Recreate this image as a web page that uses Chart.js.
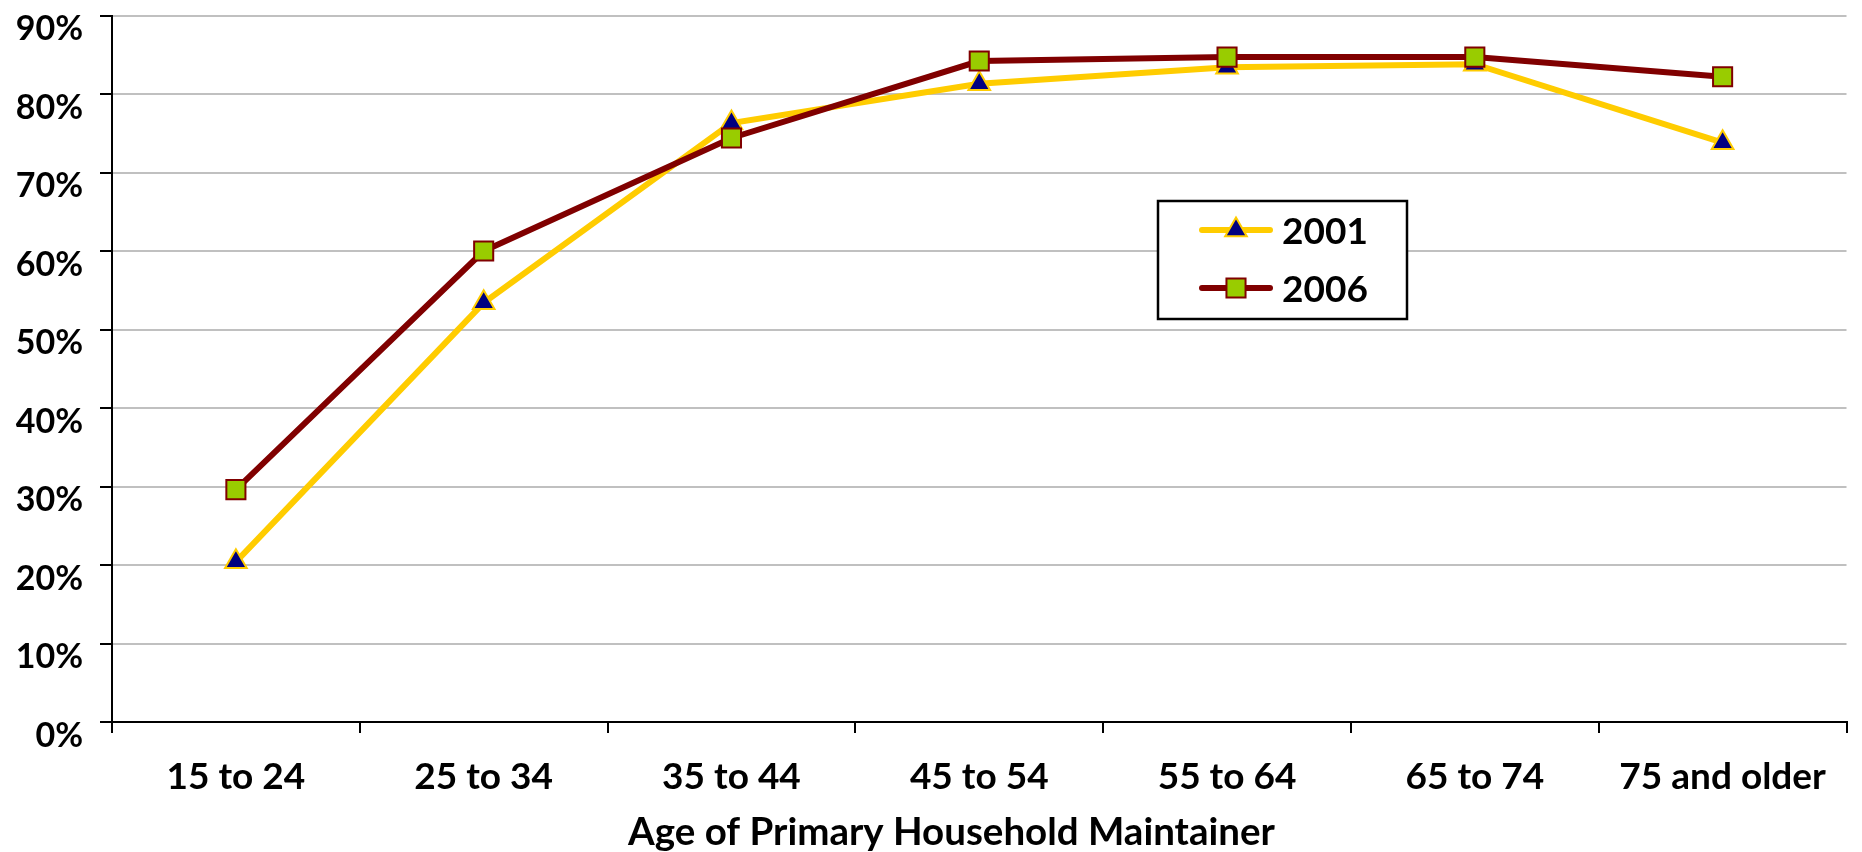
<!DOCTYPE html>
<html>
<head>
<meta charset="utf-8">
<title>Age of Primary Household Maintainer</title>
<script src="https://cdn.jsdelivr.net/npm/chart.js@4/dist/chart.umd.min.js"></script>
<style>
  html, body { margin: 0; padding: 0; background: #ffffff; }
  #wrap { width: 1862px; height: 852px; }
</style>
</head>
<body>
<div id="wrap"><canvas id="c" width="1862" height="852"></canvas></div>
<script>
// Age groups of the primary household maintainer
const categories = ['15 to 24', '25 to 34', '35 to 44', '45 to 54', '55 to 64', '65 to 74', '75 and older'];

// Rates (%) by age group for each census year
const series2001 = [20.4, 53.4, 76.3, 81.3, 83.4, 83.8, 73.8];
const series2006 = [29.6, 60.0, 74.4, 84.2, 84.7, 84.7, 82.2];

// Value axis tick values (%)
const yTicks = [0, 10, 20, 30, 40, 50, 60, 70, 80, 90];

const xAxisTitle = 'Age of Primary Household Maintainer';

const FONT = 'Lato, "Gill Sans", "DejaVu Sans", sans-serif';
const WEIGHT = 'bold';

// Boxed legend drawn inside the plot area, right of centre
const boxLegend = {
  id: 'boxLegend',
  afterDraw(chart) {
    const ctx = chart.ctx;
    const bx = 1158, by = 201, bw = 249, bh = 118;
    ctx.save();
    ctx.fillStyle = '#ffffff';
    ctx.fillRect(bx, by, bw, bh);
    ctx.lineWidth = 2.5;
    ctx.strokeStyle = '#000000';
    ctx.strokeRect(bx, by, bw, bh);

    const rows = [230, 288];
    chart.data.datasets.forEach((ds, i) => {
      const y = rows[i];
      // line sample
      ctx.beginPath();
      ctx.lineCap = 'round';
      ctx.lineWidth = ds.borderWidth;
      ctx.strokeStyle = ds.borderColor;
      ctx.moveTo(1202, y);
      ctx.lineTo(1270, y);
      ctx.stroke();
      // marker sample
      ctx.lineCap = 'butt';
      ctx.fillStyle = ds.pointBackgroundColor;
      ctx.strokeStyle = ds.pointBorderColor;
      ctx.lineWidth = ds.pointBorderWidth;
      const opts = { pointStyle: ds.pointStyle, radius: ds.pointRadius, rotation: 0, borderWidth: ds.pointBorderWidth };
      if (Chart.helpers && Chart.helpers.drawPoint) {
        Chart.helpers.drawPoint(ctx, opts, 1236, y);
      }
      // label
      ctx.fillStyle = '#000000';
      ctx.font = WEIGHT + ' 37px ' + FONT;
      ctx.textAlign = 'left';
      ctx.textBaseline = 'middle';
      ctx.fillText(ds.label, 1282, y + 2);
    });
    ctx.restore();
  }
};

// Category axis title, set slightly left of the plot centre
const axisTitle = {
  id: 'axisTitle',
  afterDraw(chart) {
    const ctx = chart.ctx;
    const a = chart.chartArea;
    ctx.save();
    ctx.fillStyle = '#000000';
    ctx.font = WEIGHT + ' 38.5px ' + FONT;
    ctx.textAlign = 'center';
    ctx.textBaseline = 'middle';
    ctx.fillText(xAxisTitle, a.left + a.width * 0.484, 833);
    ctx.restore();
  }
};

const chart = new Chart(document.getElementById('c'), {
  type: 'line',
  data: {
    labels: categories,
    datasets: [
      {
        label: '2001',
        data: series2001,
        order: 1,
        borderColor: '#FFCC00',
        borderWidth: 6,
        tension: 0,
        pointStyle: 'triangle',
        pointRadius: 12.5,
        pointHoverRadius: 12.5,
        pointBackgroundColor: '#000080',
        pointBorderColor: '#FFCC00',
        pointBorderWidth: 2
      },
      {
        label: '2006',
        data: series2006,
        order: 0,
        borderColor: '#800000',
        borderWidth: 6,
        tension: 0,
        pointStyle: 'rect',
        pointRadius: 13.5,
        pointHoverRadius: 13.5,
        pointBackgroundColor: '#99CC00',
        pointBorderColor: '#800000',
        pointBorderWidth: 2
      }
    ]
  },
  options: {
    responsive: false,
    animation: false,
    events: [],
    clip: false,
    layout: { padding: { top: 13, right: 7, left: 0, bottom: 0 } },
    plugins: {
      legend: { display: false },
      tooltip: { enabled: false },
      title: { display: false }
    },
    scales: {
      x: {
        type: 'category',
        offset: true,
        grid: {
          offset: true,
          drawOnChartArea: false,
          drawTicks: true,
          tickLength: 11,
          color: '#000000',
          tickColor: '#000000',
          lineWidth: 2
        },
        border: { display: true, color: '#000000', width: 2 },
        ticks: {
          color: '#000000',
          font: { family: FONT, size: 37, weight: WEIGHT },
          padding: 22,
          maxRotation: 0,
          autoSkip: false
        },
        afterFit(scale) {
          scale.height = 130;
          scale.paddingLeft = 0;
          scale.paddingRight = 0;
        }
      },
      y: {
        min: 0,
        max: 90,
        afterBuildTicks(scale) {
          scale.ticks = yTicks.map(v => ({ value: v }));
        },
        grid: {
          color: (c) => (c.tick && c.tick.value === 0 ? 'rgba(0,0,0,0)' : '#C0C0C0'),
          tickColor: '#000000',
          lineWidth: 2,
          tickLength: 12
        },
        border: { display: true, color: '#000000', width: 2 },
        ticks: {
          color: '#000000',
          font: { family: FONT, size: 34, weight: WEIGHT },
          padding: 17,
          labelOffset: 14,
          callback: (v) => v + '%'
        },
        afterFit(scale) {
          scale.width = 112;
          scale.paddingTop = 0;
          scale.paddingBottom = 0;
        }
      }
    }
  },
  plugins: [boxLegend, axisTitle]
});
</script>
</body>
</html>
